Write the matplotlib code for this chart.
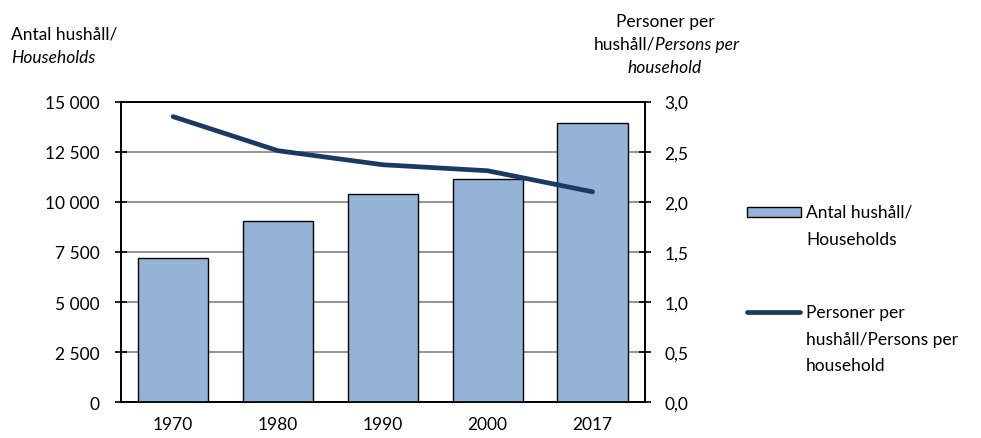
import numpy as np
import matplotlib.pyplot as plt
from matplotlib.patches import Rectangle
from matplotlib.lines import Line2D
from matplotlib.ticker import FuncFormatter

plt.rcParams['font.family'] = ['Lato', 'DejaVu Sans']

years = ['1970', '1980', '1990', '2000', '2017']
households = [7200, 9050, 10400, 11130, 13930]
persons_per_household = [2.85, 2.51, 2.37, 2.31, 2.10]

bar_color = '#95B3D7'
line_color = '#1B3A63'

fig = plt.figure(figsize=(9.81, 4.39), dpi=100)
ax = fig.add_axes([0.123, 0.0813, 0.5345, 0.685])
ax2 = ax.twinx()

x = np.arange(len(years))
ax.bar(x, households, width=0.67, color=bar_color, edgecolor='black', linewidth=1, zorder=3)
ax.set_xlim(-0.5, len(years) - 0.5)
ax.set_ylim(0, 15000)
ax.set_yticks(np.arange(0, 15001, 2500))
ax.yaxis.set_major_formatter(FuncFormatter(lambda v, p: f'{int(v):,}'.replace(',', ' ')))
ax.set_xticks(x)
ax.set_xticklabels(years)
ax.grid(axis='y', color='#8C8C8C', linewidth=1.3, zorder=0)
ax.set_axisbelow(True)

ax2.plot(x, persons_per_household, color=line_color, linewidth=3.4, solid_capstyle='round', zorder=4)
ax2.set_ylim(0, 3.0)
ax2.set_yticks(np.arange(0, 3.01, 0.5))
ax2.yaxis.set_major_formatter(FuncFormatter(lambda v, p: f'{v:.1f}'.replace('.', ',')))

fs = 12.5
for a in (ax, ax2):
    for s in a.spines.values():
        s.set_color('black')
        s.set_linewidth(1.2)
ax.tick_params(axis='y', direction='inout', length=8, width=1.2, labelsize=fs, pad=11)
ax.tick_params(axis='x', length=0, labelsize=fs, pad=10)
ax2.tick_params(axis='y', direction='inout', length=8, width=1.2, labelsize=fs, pad=10)

# axis titles
fig.text(11 / 981, 1 - 35 / 439, 'Antal hushåll/', fontsize=fs, va='center', ha='left')
fig.text(11 / 981, 1 - 58 / 439, 'Households', fontsize=fs, style='italic', va='center', ha='left')
fig.text(665 / 981, 1 - 22 / 439, 'Personer per', fontsize=fs, va='center', ha='center')
fig.text(655 / 981, 1 - 45 / 439, 'hushåll/', fontsize=fs, va='center', ha='right')
fig.text(655 / 981, 1 - 45 / 439, 'Persons per', fontsize=fs, style='italic', va='center', ha='left')
fig.text(665 / 981, 1 - 68 / 439, 'household', fontsize=fs, style='italic', va='center', ha='center')

# legend
fig.add_artist(Rectangle((747 / 981, 1 - 218 / 439), 54 / 981, 10 / 439,
                         transform=fig.transFigure, facecolor=bar_color, edgecolor='black', linewidth=1))
fig.text(806 / 981, 1 - 213 / 439, 'Antal hushåll/', fontsize=fs, va='center', ha='left')
fig.text(806 / 981, 1 - 240 / 439, 'Households', fontsize=fs, va='center', ha='left')
fig.add_artist(Line2D([747 / 981, 800 / 981], [1 - 313 / 439, 1 - 313 / 439],
                      transform=fig.transFigure, color=line_color, linewidth=3.4, solid_capstyle='round'))
fig.text(806 / 981, 1 - 313 / 439, 'Personer per', fontsize=fs, va='center', ha='left')
fig.text(806 / 981, 1 - 340 / 439, 'hushåll/Persons per', fontsize=fs, va='center', ha='left')
fig.text(806 / 981, 1 - 366 / 439, 'household', fontsize=fs, va='center', ha='left')

fig.savefig('out.png', dpi=100)
